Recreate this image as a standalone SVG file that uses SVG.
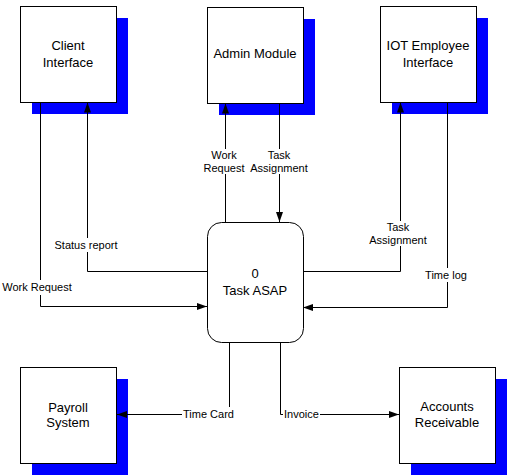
<svg xmlns="http://www.w3.org/2000/svg" width="508" height="476" viewBox="0 0 508 476">
<style>
.shadow{fill:#0000ff;stroke:none}
.box{fill:#ffffff;stroke:#000000;stroke-width:1}
.nt{font-family:"Liberation Sans",Arial,sans-serif;font-size:13px;fill:#000;text-anchor:middle}
.lt{font-family:"Liberation Sans",Arial,sans-serif;font-size:11px;fill:#000;text-anchor:middle}
.conn{fill:none;stroke:#000;stroke-width:1}
.bg{fill:#ffffff;stroke:none}
</style>
<defs>
<marker id="arr" markerUnits="userSpaceOnUse" markerWidth="10" markerHeight="8" refX="10" refY="4" orient="auto">
<path d="M0,0.5 L10,4 L0,7.5 z" fill="#000"/>
</marker>
</defs>
<rect width="508" height="476" fill="#ffffff"/>
<g id="client">
<rect class="shadow" x="32" y="18" width="96" height="96"/>
<rect class="box" x="20.5" y="6.5" width="96" height="96"/>
<text class="nt" x="68" y="50">Client</text>
<text class="nt" x="68" y="67">Interface</text>
</g>
<g id="admin">
<rect class="shadow" x="219" y="19" width="96" height="96"/>
<rect class="box" x="207.5" y="7.5" width="96" height="96"/>
<text class="nt" x="255" y="58">Admin Module</text>
</g>
<g id="iot">
<rect class="shadow" x="392" y="18" width="96" height="96"/>
<rect class="box" x="380.5" y="6.5" width="96" height="96"/>
<text class="nt" x="428" y="50">IOT Employee</text>
<text class="nt" x="428" y="67">Interface</text>
</g>
<g id="process">
<rect class="box" x="207.5" y="222.5" width="96" height="120" rx="14" ry="14"/>
<text class="nt" x="255" y="278">0</text>
<text class="nt" x="255" y="295">Task ASAP</text>
</g>
<g id="payroll">
<rect class="shadow" x="32" y="379" width="96" height="96"/>
<rect class="box" x="20.5" y="367.5" width="96" height="96"/>
<text class="nt" x="68" y="412">Payroll</text>
<text class="nt" x="68" y="427">System</text>
</g>
<g id="accounts">
<rect class="shadow" x="411" y="379" width="96" height="96"/>
<rect class="box" x="399.5" y="367.5" width="96" height="96"/>
<text class="nt" x="447" y="411">Accounts</text>
<text class="nt" x="447" y="427">Receivable</text>
</g>
<g id="connectors">
<path class="conn" d="M207,271.5 H87.5 V102.5" marker-end="url(#arr)"/>
<path class="conn" d="M40.5,102.5 V306.5 H207" marker-end="url(#arr)"/>
<path class="conn" d="M225.5,222 V103.5" marker-end="url(#arr)"/>
<path class="conn" d="M279.5,103.5 V222" marker-end="url(#arr)"/>
<path class="conn" d="M303,271.5 H400.5 V102.5" marker-end="url(#arr)"/>
<path class="conn" d="M447.5,102.5 V307.5 H303" marker-end="url(#arr)"/>
<path class="conn" d="M229.5,342 V414.5 H117" marker-end="url(#arr)"/>
<path class="conn" d="M280.5,342 V414.5 H399" marker-end="url(#arr)"/>
<g id="labels">
<rect class="bg" x="55" y="238" width="62" height="14"/>
<text class="lt" x="86" y="249">Status report</text>
<rect class="bg" x="2" y="280" width="70" height="15"/>
<text class="lt" x="37" y="291">Work Request</text>
<rect class="bg" x="204" y="149" width="41" height="25"/>
<text class="lt" x="224" y="159">Work</text>
<text class="lt" x="224" y="172">Request</text>
<rect class="bg" x="251" y="149" width="57" height="25"/>
<text class="lt" x="279" y="159">Task</text>
<text class="lt" x="279" y="172">Assignment</text>
<rect class="bg" x="370" y="221" width="57" height="25"/>
<text class="lt" x="398" y="231">Task</text>
<text class="lt" x="398" y="244">Assignment</text>
<rect class="bg" x="425" y="268" width="43" height="14"/>
<text class="lt" x="446" y="279">Time log</text>
<rect class="bg" x="182" y="407" width="52" height="15"/>
<text class="lt" x="183" y="418" style="text-anchor:start">Time Card</text>
<rect class="bg" x="283" y="407" width="37" height="15"/>
<text class="lt" x="284" y="418" style="text-anchor:start">Invoice</text>
</g>
</g>
</svg>
